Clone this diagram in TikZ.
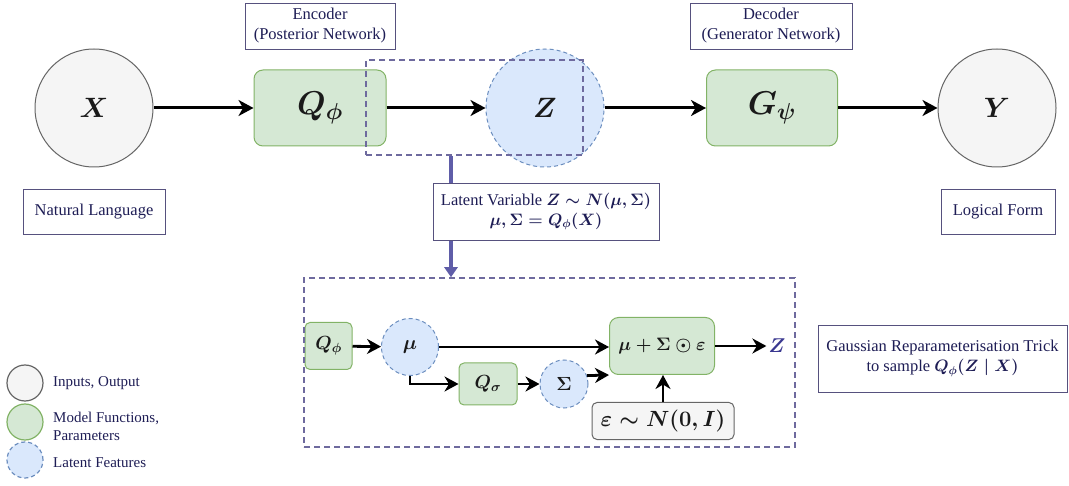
\RequirePackage{fix-cm}
\documentclass[tikz,border=0pt]{standalone}
\usepackage{amsmath,bm}
\usepackage[no-math]{fontspec}
\setmainfont{Liberation Serif}
\usetikzlibrary{arrows.meta,calc}
\definecolor{txtnavy}{HTML}{1E1D55}
\definecolor{iofill}{HTML}{F5F5F5}
\definecolor{iodraw}{HTML}{666666}
\definecolor{gfill}{HTML}{D5E8D4}
\definecolor{gdraw}{HTML}{82B366}
\definecolor{bfill}{HTML}{DAE8FC}
\definecolor{bdraw}{HTML}{6C8EBF}
\definecolor{pdash}{HTML}{6E6A9E}
\definecolor{pline}{HTML}{5F5DA8}
\definecolor{lbldraw}{HTML}{56517E}
\definecolor{mathc}{HTML}{1A1A1A}
\definecolor{zcol}{HTML}{3A3890}
\begin{document}
\begin{tikzpicture}[x=1pt,y=-1pt,
  inout/.style={circle,draw=iodraw,fill=iofill,line width=1pt,minimum size=118pt,inner sep=0pt,font=\fontsize{28}{30}\selectfont\boldmath,text=mathc},
  model/.style={rectangle,rounded corners=9pt,draw=gdraw,fill=gfill,line width=1pt,inner sep=0pt,text=mathc},
  latent/.style={circle,draw=bdraw,fill=bfill,dashed,dash pattern=on 4pt off 3pt,line width=1pt,inner sep=0pt,text=mathc},
  graybox/.style={rectangle,rounded corners=5pt,draw=iodraw,fill=iofill,line width=1pt,inner sep=0pt,text=mathc},
  lbl/.style={rectangle,draw=lbldraw,fill=white,line width=0.9pt,inner sep=0pt,align=center,text=txtnavy,font=\fontsize{16.5}{20}\selectfont},
  dashbox/.style={rectangle,draw=pdash,dash pattern=on 6pt off 4pt,line width=1.5pt,inner sep=0pt},
  legtext/.style={anchor=west,align=left,text=txtnavy,font=\fontsize{15}{18}\selectfont,inner sep=0pt},
  arr/.style={line width=3pt,-{Stealth[length=15pt,width=16pt,inset=4.5pt]}},
  sarr/.style={line width=2.8pt,-{Stealth[length=14pt,width=15pt,inset=4.5pt]}},
  vline/.style={line width=4pt,draw=pline,-{Triangle[length=10pt,width=13pt]}}
]
\useasboundingbox (0,0) rectangle (1069,486);

% top row
\node[inout] (X) at (94,108) {$X$};
\node[model,minimum width=132pt,minimum height=76pt,font=\fontsize{33}{36}\selectfont\boldmath] (Q) at (320,108) {$Q_\phi$};
\node[latent,minimum size=118pt,font=\fontsize{28}{30}\selectfont\boldmath] (Z) at (545,108) {$Z$};
\node[model,minimum width=131pt,minimum height=76pt,font=\fontsize{33}{36}\selectfont\boldmath] (G) at (772,108) {$G_\psi$};
\node[inout] (Y) at (997,108) {$Y$};

\node[dashbox,minimum width=217pt,minimum height=95pt] (dz) at (474.5,107.5) {};

\draw[arr] (X) -- (Q);
\draw[arr] (Q) -- (Z);
\draw[arr] (Z) -- (G);
\draw[arr] (G) -- (Y);

% labels
\node[lbl,minimum width=150pt,minimum height=46pt] (enc) at (320,26) {Encoder\\(Posterior Network)};
\node[lbl,minimum width=162pt,minimum height=46pt] (dec) at (771,26) {Decoder\\(Generator Network)};
\node[lbl,minimum width=142pt,minimum height=45pt] (nl) at (94,212) {Natural Language};
\node[lbl,minimum width=114pt,minimum height=45pt] (lf) at (998,212) {Logical Form};

% bottom detail
\node[model,rounded corners=5pt,minimum width=47pt,minimum height=47pt,font=\fontsize{19}{20}\selectfont\boldmath] (q2) at (328.5,346) {$Q_\phi$\hspace{12pt}};
\node[latent,minimum size=57pt,font=\fontsize{20}{20}\selectfont\boldmath] (mu) at (410,347) {$\mu$};
\node[model,minimum width=105pt,minimum height=57pt,font=\fontsize{18}{20}\selectfont\boldmath] (mix) at (662,346) {$\mu+\Sigma\odot\varepsilon$};
\node[text=zcol,font=\fontsize{20}{20}\selectfont\boldmath,inner sep=2pt] (z2) at (777,346) {$Z$};
\node[model,rounded corners=5pt,minimum width=58pt,minimum height=42pt,font=\fontsize{19}{20}\selectfont\boldmath] (qsig) at (488,384) {$Q_\sigma$};
\node[latent,minimum size=48pt,font=\fontsize{19}{20}\selectfont\boldmath] (sig) at (564,384) {$\Sigma$};
\node[graybox,minimum width=142pt,minimum height=37pt,font=\fontsize{22}{24}\selectfont\boldmath] (eps) at (663,421) {$\varepsilon\sim N(0,I)$};

\node[dashbox,minimum width=491pt,minimum height=169pt] (trick) at (549.5,362.5) {};

\draw[sarr] (q2) -- (mu);
\draw[sarr] (mu.east) -- (mu.east -| mix.west);
\draw[sarr] (mu.south) |- (qsig.west);
\draw[sarr] (qsig) -- (sig);
\draw[sarr] (sig.20) -- (mix.south west);
\draw[sarr] (eps.north) -- (eps.north |- mix.south);
\draw[sarr] (mix) -- (z2);

% vertical connector and latent label
\coordinate (vx) at (451,0);
\draw[vline] (vx |- dz.south) -- (vx |- trick.north);
\node[lbl,minimum width=226pt,minimum height=57pt,font=\fontsize{16.5}{20}\selectfont\boldmath] (lat) at (546,211.5) {Latent Variable $Z\sim N(\mu,\Sigma)$\\$\mu,\Sigma=Q_\phi(X)$};

\node[lbl,minimum width=249pt,minimum height=67pt,font=\fontsize{16.5}{20}\selectfont\boldmath] (gauss) at (942.5,358.5) {Gaussian Reparameterisation Trick\\to sample $Q_\phi(Z\mid X)$};

% legend
\node[circle,draw=iodraw,fill=iofill,line width=1.2pt,minimum size=36pt,inner sep=0pt] (l1) at (25,383) {};
\node[circle,draw=gdraw,fill=gfill,line width=1.2pt,minimum size=36pt,inner sep=0pt] (l2) at (25,422) {};
\node[circle,draw=bdraw,fill=bfill,dashed,dash pattern=on 4pt off 3pt,line width=1.2pt,minimum size=36pt,inner sep=0pt] (l3) at (25,460) {};
\node[legtext] (t1) at (53,383) {Inputs, Output};
\node[legtext] (t2) at (53,426) {Model Functions,\\Parameters};
\node[legtext] (t3) at (53,463) {Latent Features};
\end{tikzpicture}
\end{document}
